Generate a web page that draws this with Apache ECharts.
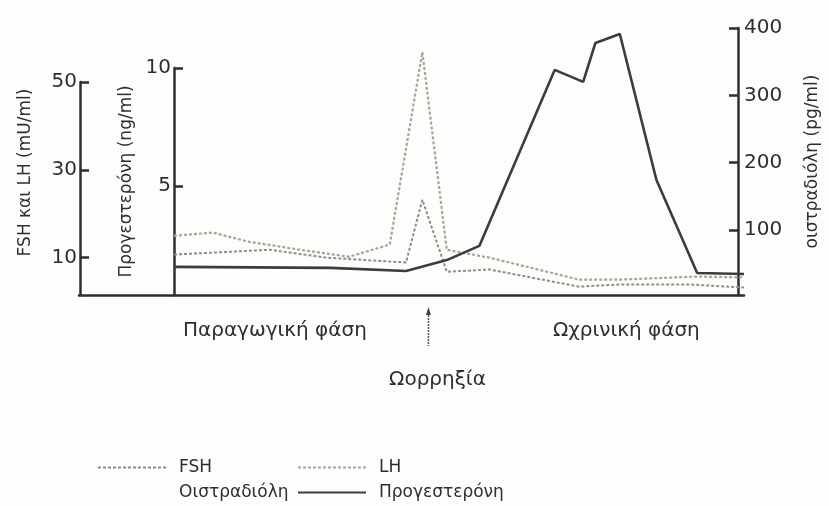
<!DOCTYPE html>
<html>
<head>
<meta charset="utf-8">
<script src="https://cdn.jsdelivr.net/npm/echarts@6/dist/echarts.min.js"></script>
<style>
html, body { margin: 0; background: #fdfdfc; }
#main { width: 829px; height: 506px; }
</style>
</head>
<body>
<div id="main"></div>
<script>
// day of the cycle / value pairs
const lhDays = [0, 1.9, 3.7, 6.2, 8.6, 10.6, 12.2, 13.4, 15.5, 19.9, 21.9, 25.7, 28];
const lhValues = [15.0, 15.7, 13.6, 11.8, 10.2, 13.0, 56.8, 11.8, 10.0, 5.0, 5.0, 5.7, 5.5];
const fshDays = [0, 4.7, 7.5, 11.4, 12.2, 13.4, 15.5, 19.9, 21.9, 25.3, 28];
const fshValues = [10.7, 11.8, 10.0, 8.9, 23.2, 6.8, 7.3, 3.4, 3.9, 3.9, 3.2];
const progDays = [0, 7.7, 11.4, 13.4, 15.0, 18.7, 20.1, 20.7, 21.9, 23.7, 25.7, 28];
const progValues = [1.57, 1.53, 1.40, 1.86, 2.46, 9.92, 9.41, 11.06, 11.44, 5.25, 1.31, 1.27];
// the estradiol curve is not visible in the print, only its axis
const estrDays = [];
const estrValues = [];

const fshTicks = [10, 30, 50];
const progTicks = [5, 10];
const estrTicks = [100, 200, 300, 400];
const ovulationDay = 12.5;

const FONT = '"DejaVu Sans", "Liberation Sans", Arial, sans-serif';
const INK = '#2e2e2c';

const pairs = (xs, ys) => xs.map((x, i) => [x, ys[i]]);

const chart = echarts.init(document.getElementById('main'));

const grids = [
    {left: 174, right: 85, top: 28, bottom: 211},   // estradiol
    {left: 174, right: 85, top: 68, bottom: 211},   // progesterone
    {left: 174, right: 85, top: 82, bottom: 211},   // FSH, LH
    {left: 79, right: 85, top: 28, bottom: 211}     // long baseline only
];

const hiddenX = i => ({gridIndex: i, type: 'value', min: 0, max: 28, show: false});

const yBase = (grid, ticks) => ({
    gridIndex: grid,
    type: 'value',
    splitLine: {show: false},
    axisLine: {show: true, onZero: false, lineStyle: {color: INK, width: 2.5}},
    axisTick: {show: true, inside: true, length: 9, customValues: ticks, lineStyle: {color: INK, width: 2.5}},
    axisLabel: {customValues: ticks, color: INK, fontFamily: FONT, fontSize: 20, margin: 3},
    nameLocation: 'middle',
    nameRotate: 90,
    nameTextStyle: {color: INK, fontFamily: FONT, fontSize: 17}
});

const legendBase = (left, names) => ({
    left: left, top: 459, orient: 'vertical', padding: 0,
    itemWidth: 68, itemHeight: 10, itemGap: 8,
    itemStyle: {opacity: 0},
    textStyle: {color: INK, fontFamily: FONT, fontSize: 17, padding: [0, 0, 0, 8]},
    data: names
});

const option = {
    backgroundColor: '#fdfdfc',
    animation: false,
    grid: grids,
    xAxis: [
        hiddenX(0), hiddenX(1), hiddenX(2),
        {gridIndex: 3, type: 'value', min: 0, max: 1,
         axisLine: {show: true, onZero: false, lineStyle: {color: INK, width: 2.5}},
         axisTick: {show: false}, axisLabel: {show: false}, splitLine: {show: false}}
    ],
    yAxis: [
        Object.assign(yBase(0, estrTicks), {
            position: 'right', min: 3.5, max: 400,
            name: 'οιστραδιόλη (pg/ml)', nameGap: 66,
            axisLabel: {customValues: estrTicks, color: INK, fontFamily: FONT, fontSize: 20, margin: 6}
        }),
        Object.assign(yBase(1, progTicks), {
            position: 'left', min: 0.38, max: 10,
            name: 'Προγεστερόνη (ng/ml)', nameGap: 35
        }),
        Object.assign(yBase(2, fshTicks), {
            position: 'left', min: 1.5, max: 50, offset: 94,
            name: 'FSH και LH (mU/ml)', nameGap: 46,
            nameTextStyle: {color: INK, fontFamily: FONT, fontSize: 17, padding: [0, 0, 0, 32]}
        }),
        {gridIndex: 3, type: 'value', show: false}
    ],
    legend: [
        legendBase(97, ['FSH', {name: 'Οιστραδιόλη', itemStyle: {opacity: 0}, lineStyle: {opacity: 0}}]),
        legendBase(297, ['LH', 'Προγεστερόνη'])
    ],
    series: [
        {name: 'LH', type: 'line', xAxisIndex: 2, yAxisIndex: 2, clip: false, symbol: 'none',
         data: pairs(lhDays, lhValues), lineStyle: {color: '#a5a59e', width: 2.2, type: [3, 2]}},
        {name: 'FSH', type: 'line', xAxisIndex: 2, yAxisIndex: 2, clip: false, symbol: 'none',
         data: pairs(fshDays, fshValues), lineStyle: {color: '#8e8e88', width: 2, type: [3, 2]}},
        {name: 'Προγεστερόνη', type: 'line', xAxisIndex: 1, yAxisIndex: 1, clip: false, symbol: 'none',
         data: pairs(progDays, progValues), lineStyle: {color: '#3c3c3a', width: 2.6}},
        {name: 'Οιστραδιόλη', type: 'line', xAxisIndex: 0, yAxisIndex: 0, symbol: 'none',
         data: pairs(estrDays, estrValues), lineStyle: {color: '#3c3c3a', width: 2.6}}
    ]
};
chart.setOption(option);

// phase captions and the ovulation arrow, placed from the x axis
const ox = chart.convertToPixel({xAxisIndex: 2}, ovulationDay);
const txt = (x, y, s, align) => ({type: 'text', x: x, y: y,
    style: {text: s, fill: INK, font: '20px ' + FONT, textAlign: align || 'left', textVerticalAlign: 'middle'}});
chart.setOption({
    graphic: [
        txt(183, 331, 'Παραγωγική φάση'),
        txt(553, 331, 'Ωχρινική φάση'),
        txt(ox + 9, 380, 'Ωορρηξία', 'center'),
        {type: 'line', shape: {x1: ox, y1: 312, x2: ox, y2: 346},
         style: {stroke: '#555', lineWidth: 1.5, lineDash: [2, 1]}},
        {type: 'polygon', shape: {points: [[ox - 2.5, 315], [ox, 307], [ox + 2.5, 315]]},
         style: {fill: '#444'}}
    ]
});
</script>
</body>
</html>
